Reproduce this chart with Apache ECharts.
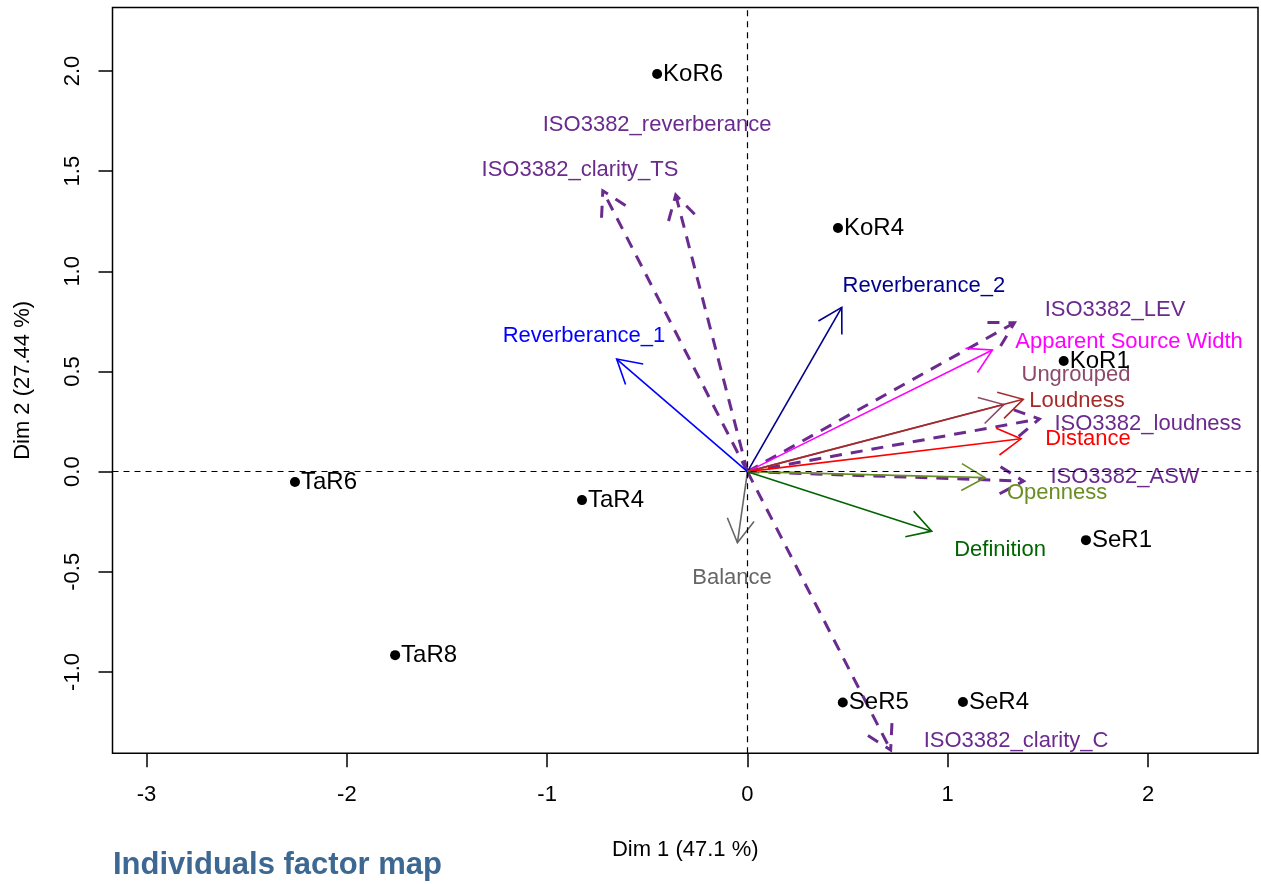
<!DOCTYPE html>
<html>
<head>
<meta charset="utf-8">
<title>Individuals factor map</title>
<script src="https://cdn.jsdelivr.net/npm/echarts@6/dist/echarts.min.js"></script>
<style>
  html, body { margin: 0; padding: 0; background: #fff; }
  #main { width: 1261px; height: 884px; }
</style>
</head>
<body>
<div id="main"></div>
<script>
// individuals (dots)
var pointNames = ['KoR6', 'KoR4', 'KoR1', 'TaR6', 'TaR4', 'TaR8', 'SeR1', 'SeR5', 'SeR4'];
var pointX = [-0.451, 0.452, 1.579, -2.259, -0.826, -1.759, 1.690, 0.476, 1.076];
var pointY = [1.985, 1.216, 0.552, -0.052, -0.142, -0.916, -0.342, -1.152, -1.150];

// perceptual variables (solid arrows)
var solidNames = ['Reverberance_1', 'Reverberance_2', 'Apparent Source Width', 'Ungrouped',
  'Loudness', 'Distance', 'Openness', 'Definition', 'Balance'];
var solidX = [-0.653, 0.471, 1.223, 1.280, 1.377, 1.366, 1.186, 0.920, -0.050];
var solidY = [0.562, 0.820, 0.607, 0.335, 0.361, 0.164, -0.030, -0.297, -0.355];
var solidLabelX = [-0.816, 0.881, 1.905, 1.640, 1.645, 1.700, 1.546, 1.261, -0.077];
var solidLabelY = [0.677, 0.927, 0.647, 0.482, 0.352, 0.162, -0.107, -0.391, -0.531];

// ISO3382 parameters (dashed arrows)
var isoNames = ['ISO3382_reverberance', 'ISO3382_clarity_TS', 'ISO3382_LEV',
  'ISO3382_loudness', 'ISO3382_ASW', 'ISO3382_clarity_C'];
var isoX = [-0.358, -0.722, 1.333, 1.457, 1.378, 0.715];
var isoY = [1.381, 1.402, 0.743, 0.263, -0.047, -1.390];
var isoLabelX = [-0.451, -0.836, 1.835, 2.000, 1.885, 1.341];
var isoLabelY = [1.730, 1.507, 0.807, 0.237, -0.027, -1.344];

var xTicks = [-3, -2, -1, 0, 1, 2];
var yTicks = [-1.0, -0.5, 0.0, 0.5, 1.0, 1.5, 2.0];

var colors = {
  'Reverberance_1': '#0000FF',
  'Reverberance_2': '#00008B',
  'Apparent Source Width': '#FF00FF',
  'Ungrouped': '#8B4A6B',
  'Loudness': '#A52A2A',
  'Distance': '#FF0000',
  'Openness': '#6B8E23',
  'Definition': '#006400',
  'Balance': '#666666'
};
var isoColor = '#6A2A8E';
var font = 'Liberation Sans, Arial, Helvetica, sans-serif';

function rows(names, xs, ys, lxs, lys) {
  return names.map(function (n, i) { return [xs[i], ys[i], lxs[i], lys[i], n]; });
}

function arrowRenderer(dashed) {
  return function (params, api) {
    var o = api.coord([0, 0]);
    var t = api.coord([api.value(0), api.value(1)]);
    var lp = api.coord([api.value(2), api.value(3)]);
    var name = api.value(4);
    var col = dashed ? isoColor : colors[name];
    var ang = Math.atan2(t[1] - o[1], t[0] - o[0]);
    var hl = 27, ha = Math.PI / 6;
    var h1 = [t[0] - hl * Math.cos(ang - ha), t[1] - hl * Math.sin(ang - ha)];
    var h2 = [t[0] - hl * Math.cos(ang + ha), t[1] - hl * Math.sin(ang + ha)];
    var ls = {
      stroke: col,
      lineWidth: dashed ? 3 : 1.6,
      lineDash: dashed ? [12, 9] : null,
      fill: null
    };
    return {
      type: 'group',
      children: [
        { type: 'line', shape: { x1: o[0], y1: o[1], x2: t[0], y2: t[1] }, style: ls },
        { type: 'polyline', shape: { points: [h1, t, h2] }, style: ls },
        {
          type: 'text',
          x: lp[0], y: lp[1],
          style: {
            text: name, fill: col, font: '22px ' + font,
            align: 'center', verticalAlign: 'middle'
          }
        }
      ]
    };
  };
}

var myChart = echarts.init(document.getElementById('main'));
var option = {
  animation: false,
  backgroundColor: '#fff',
  title: {
    text: 'Individuals factor map',
    left: 113,
    top: 850,
    padding: 0,
    textStyle: { fontFamily: font, fontSize: 31, fontWeight: 'bold', color: '#3D6891' }
  },
  grid: {
    left: 112.5, right: 3, top: 7.5, bottom: 130.7,
    show: true, borderColor: '#000', borderWidth: 1.5
  },
  xAxis: {
    type: 'value',
    min: -3.17, max: 2.549,
    name: 'Dim 1 (47.1 %)',
    nameLocation: 'middle',
    nameGap: 86,
    nameTextStyle: { fontFamily: font, fontSize: 22, color: '#000' },
    axisLine: { show: false, onZero: false },
    splitLine: { show: false },
    axisTick: { show: true, inside: false, length: 14, customValues: xTicks, lineStyle: { color: '#000', width: 1.5 } },
    axisLabel: {
      customValues: xTicks, margin: 31,
      fontFamily: font, fontSize: 22, color: '#000'
    }
  },
  yAxis: {
    type: 'value',
    min: -1.406, max: 2.317,
    name: 'Dim 2 (27.44 %)',
    nameLocation: 'middle',
    nameRotate: 90,
    nameGap: 79,
    nameTextStyle: { fontFamily: font, fontSize: 22, color: '#000' },
    axisLine: { show: false, onZero: false },
    splitLine: { show: false },
    axisTick: { show: true, inside: false, length: 14, customValues: yTicks, lineStyle: { color: '#000', width: 1.5 } },
    axisLabel: {
      customValues: yTicks, margin: 29, rotate: 90,
      fontFamily: font, fontSize: 22, color: '#000',
      formatter: function (v) { return v.toFixed(1); }
    }
  },
  series: [
    {
      type: 'custom',
      name: 'ISO3382',
      z: 3,
      renderItem: arrowRenderer(true),
      data: rows(isoNames, isoX, isoY, isoLabelX, isoLabelY),
      markLine: {
        silent: true,
        symbol: 'none',
        label: { show: false },
        lineStyle: { color: '#000', width: 1.2, type: [6, 5] },
        data: [{ xAxis: 0 }, { yAxis: 0 }]
      }
    },
    {
      type: 'custom',
      name: 'Perceptual',
      z: 4,
      renderItem: arrowRenderer(false),
      data: rows(solidNames, solidX, solidY, solidLabelX, solidLabelY)
    },
    {
      type: 'scatter',
      name: 'Individuals',
      z: 5,
      symbol: 'circle',
      symbolSize: 10,
      itemStyle: { color: '#000', opacity: 1 },
      label: {
        show: true, position: 'right', distance: 1,
        formatter: function (p) { return p.data[2]; },
        fontFamily: font, fontSize: 24, color: '#000'
      },
      data: pointNames.map(function (n, i) { return [pointX[i], pointY[i], n]; })
    }
  ]
};
myChart.setOption(option);
</script>
</body>
</html>
